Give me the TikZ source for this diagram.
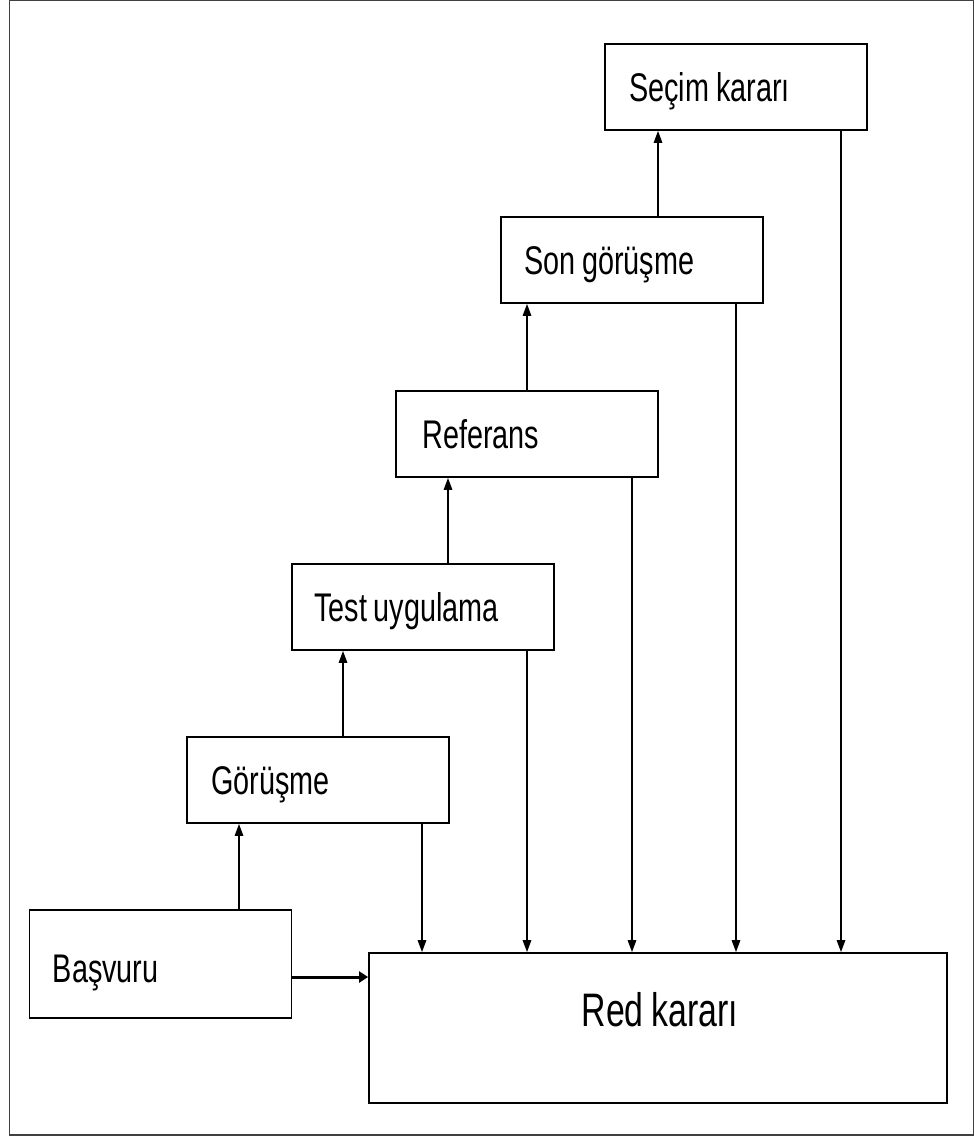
\documentclass[tikz,border=0pt]{standalone}
\usepackage{fontspec}
\newfontfamily\nf[FakeStretch=0.72,WordSpace=0.85]{Liberation Sans}
\usetikzlibrary{arrows.meta}
\tikzset{
  stage/.style={draw=black, line width=1.8pt, rectangle, inner sep=0pt,
    minimum width=262pt, minimum height=86pt},
  lbl/.style={anchor=west, inner sep=0pt, font=\nf\fontsize{40}{44}\selectfont,
    text height=29pt, text depth=0pt},
  arr/.style={draw=black, line width=1.5pt, -{Triangle[length=12pt,width=8.5pt]}},
  thickarr/.style={draw=black, line width=3pt, -{Triangle[length=9pt,width=11pt]}},
  frame/.style={draw=black!75, line width=1.3pt}
}
\begin{document}
\begin{tikzpicture}[x=1pt,y=-1pt]
\useasboundingbox (0,0) rectangle (974,1136);
\draw[frame] (9.5,0.5) rectangle (973.5,1135);

\node[stage, minimum height=108pt] (basvuru) at (160.5,964) {};
\node[stage] (gorusme) at (318,780) {};
\node[stage] (test) at (423,607) {};
\node[stage] (referans) at (527,434) {};
\node[stage] (son) at (632,260) {};
\node[stage] (secim) at (736,87) {};
\node[lbl] (tbasvuru) at ([xshift=24pt,yshift=-4pt]basvuru.west) {Başvuru};
\node[lbl] (tgorusme) at ([xshift=25pt]gorusme.west) {Görüşme};
\node[lbl] (ttest) at ([xshift=23pt]test.west) {Test uygulama};
\node[lbl] (treferans) at ([xshift=27pt]referans.west) {Referans};
\node[lbl] (tson) at ([xshift=24pt]son.west) {Son görüşme};
\node[lbl] (tsecim) at ([xshift=25pt]secim.west) {Seçim kararı};
\node[draw=black, line width=1.8pt, minimum width=578pt, minimum height=150pt] (red) at (658,1028) {};
\node[font=\nf\fontsize{47}{52}\selectfont, text height=34pt, text depth=0pt, inner sep=0pt] (redtxt) at (660,1009) {Red kararı};

% upward flow
\draw[arr] (basvuru.north -| 239,0) -- (gorusme.south -| 239,0);
\draw[arr] (gorusme.north -| 343,0) -- (test.south -| 343,0);
\draw[arr] (test.north -| 448,0) -- (referans.south -| 448,0);
\draw[arr] (referans.north -| 527,0) -- (son.south -| 527,0);
\draw[arr] (son.north -| 658,0) -- (secim.south -| 658,0);

% rejection arrows
\draw[arr] (gorusme.south -| 422,0) -- (red.north -| 422,0);
\draw[arr] (test.south -| 527,0) -- (red.north -| 527,0);
\draw[arr] (referans.south -| 632,0) -- (red.north -| 632,0);
\draw[arr] (son.south -| 736,0) -- (red.north -| 736,0);
\draw[arr] (secim.south -| 841,0) -- (red.north -| 841,0);

\draw[thickarr] (basvuru.east |- 0,977) -- (red.west |- 0,977);
\end{tikzpicture}
\end{document}
